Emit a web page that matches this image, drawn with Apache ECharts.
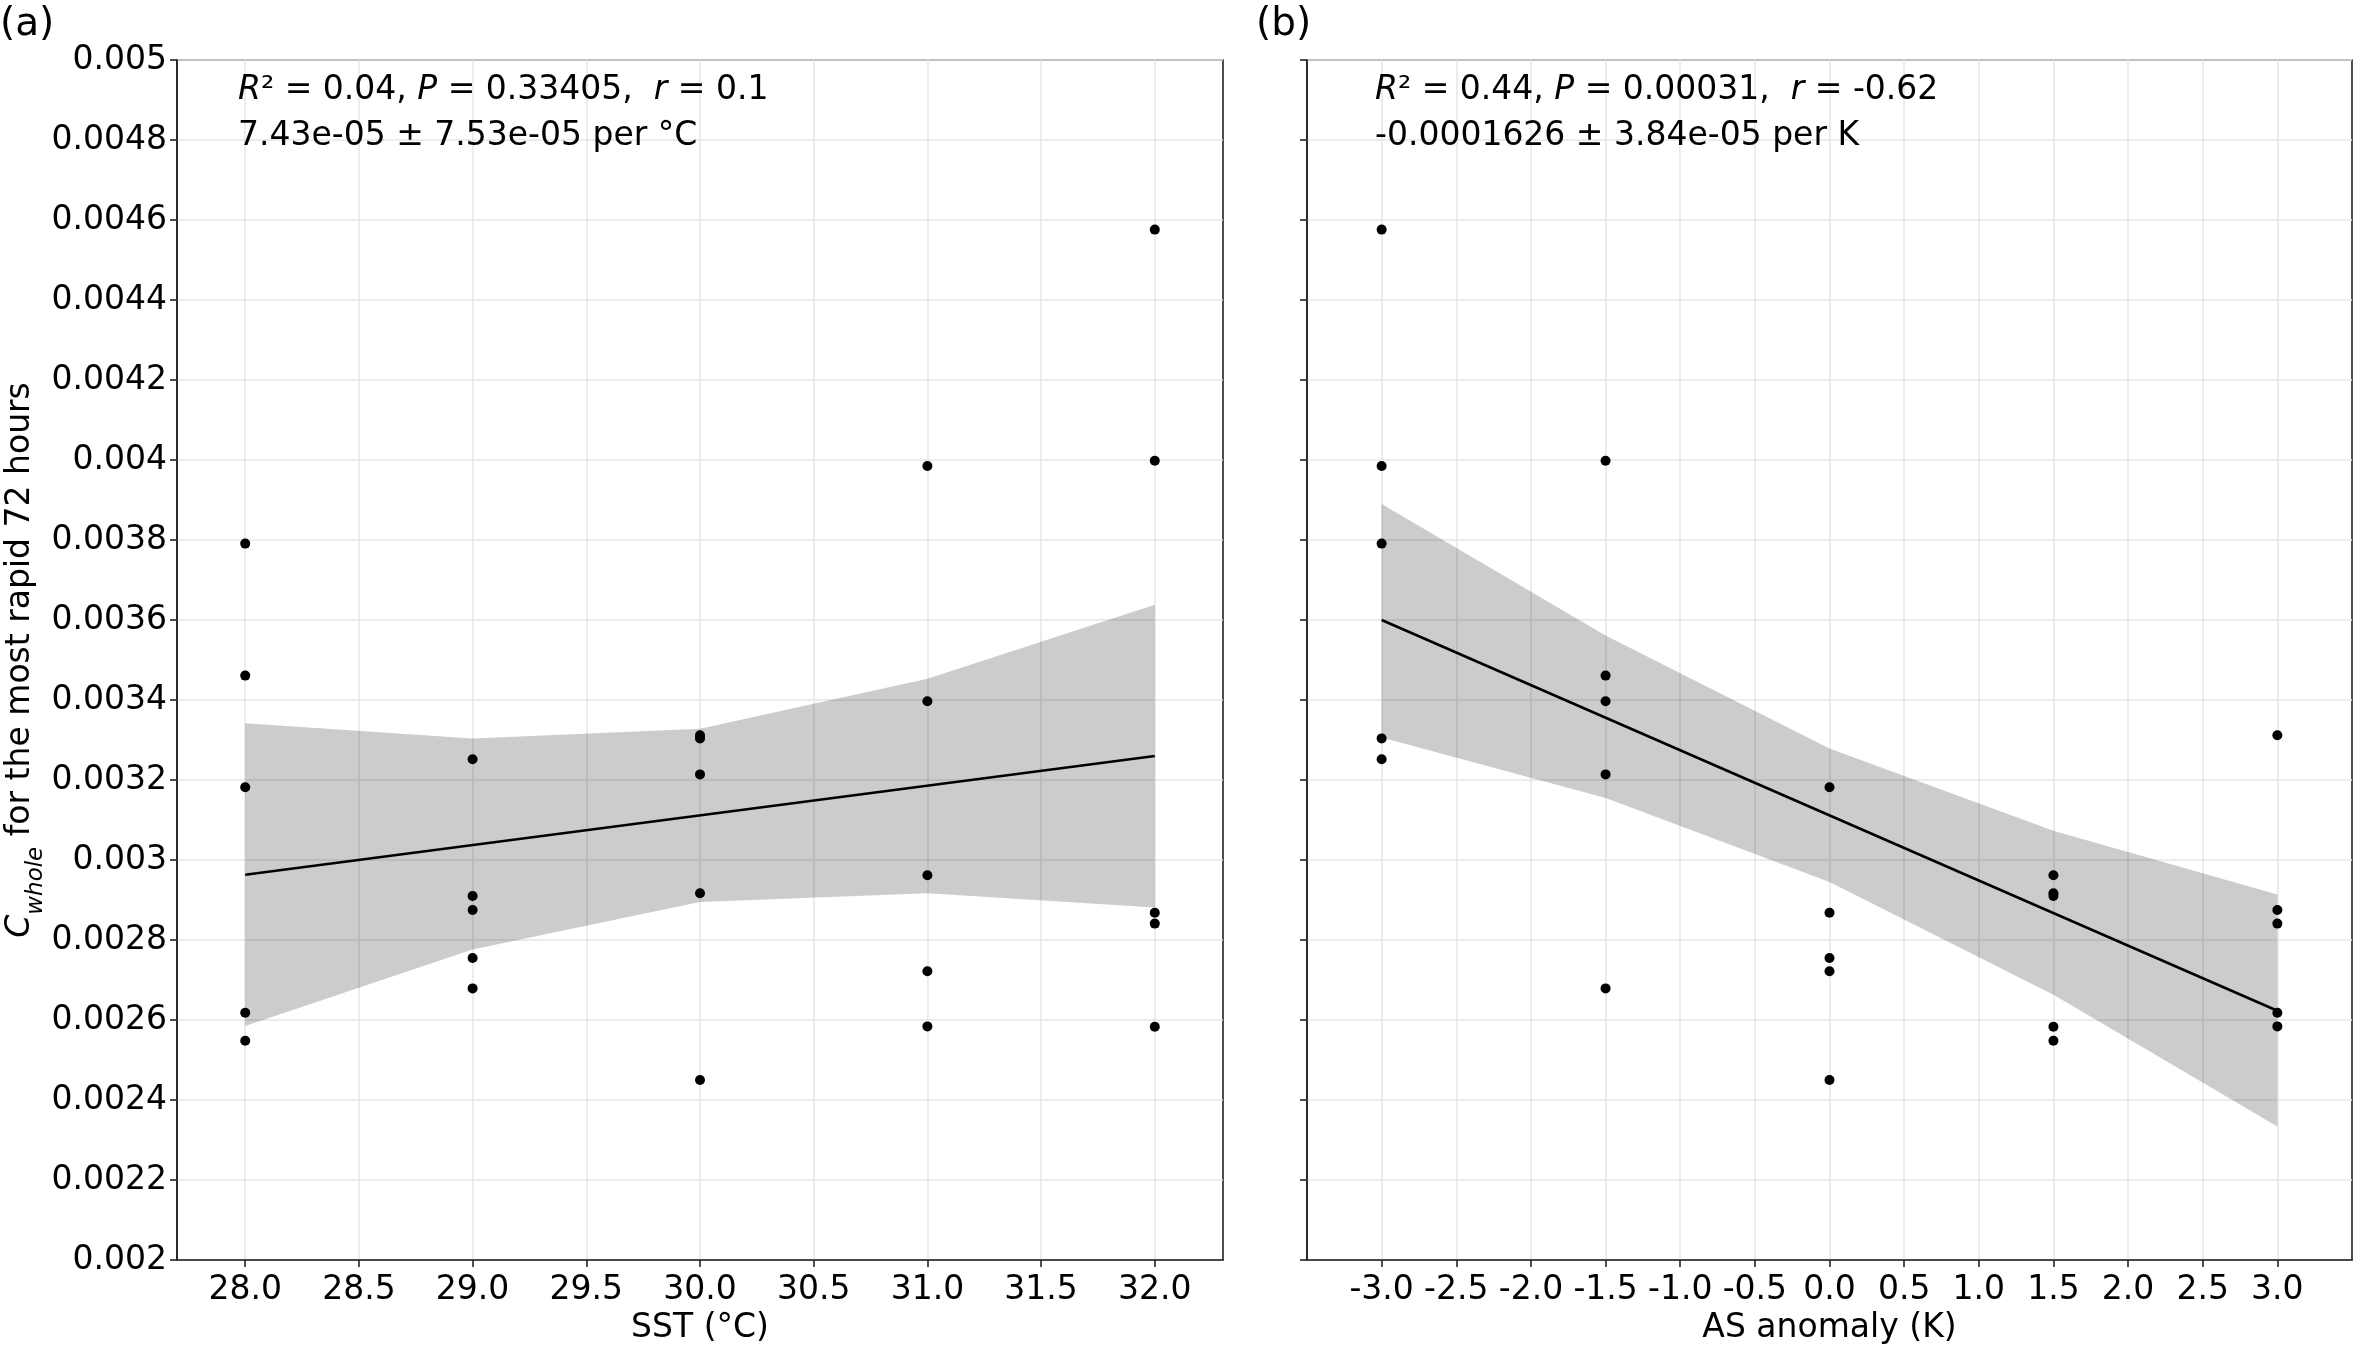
<!DOCTYPE html>
<html>
<head>
<meta charset="utf-8">
<script src="https://cdn.jsdelivr.net/npm/echarts@6/dist/echarts.min.js"></script>
<style>
  html, body { margin: 0; padding: 0; background: #fff; }
  #chart { width: 2358px; height: 1350px; }
</style>
</head>
<body>
<div id="chart"></div>
<script>
// 25 runs: every SST level crossed with every AS anomaly level
var sst = [28, 28, 28, 28, 28, 29, 29, 29, 29, 29, 30, 30, 30, 30, 30,
           31, 31, 31, 31, 31, 32, 32, 32, 32, 32];
var asAnom = [-3, -1.5, 0, 1.5, 3, -3, -1.5, 0, 1.5, 3, -3, -1.5, 0, 1.5, 3,
              -3, -1.5, 0, 1.5, 3, -3, -1.5, 0, 1.5, 3];
var cWhole = [0.003791, 0.003461, 0.003182, 0.002548, 0.002618,
              0.003252, 0.002679, 0.002755, 0.002910, 0.002875,
              0.003304, 0.003214, 0.002450, 0.002917, 0.003312,
              0.003985, 0.003397, 0.002722, 0.002962, 0.002584,
              0.004576, 0.003998, 0.002868, 0.002583, 0.002841];

// fitted lines (end points) and confidence bands
var fitLeft = [[28, 0.002963], [32, 0.003260]];
var fitRight = [[-3, 0.003600], [3, 0.002623]];

var bandLeftX = [28, 29, 30, 31, 32];
var bandLeftUpper = [0.003342, 0.003304, 0.003328, 0.003453, 0.003638];
var bandLeftLower = [0.002585, 0.002776, 0.002895, 0.002917, 0.002881];

var bandRightX = [-3, -1.5, 0, 1.5, 3];
var bandRightUpper = [0.003890, 0.003561, 0.003279, 0.003073, 0.002914];
var bandRightLower = [0.003306, 0.003155, 0.002945, 0.002663, 0.002334];

var sstTicks = [28, 28.5, 29, 29.5, 30, 30.5, 31, 31.5, 32];
var asTicks = [-3, -2.5, -2, -1.5, -1, -0.5, 0, 0.5, 1, 1.5, 2, 2.5, 3];

var FONT = 'DejaVu Sans';
var FS = 33;
var gridColor = '#e6e6e6';
var spineColor = '#222';

function bandRenderer(xs, ups, lows) {
  return function (params, api) {
    var pts = [];
    for (var i = 0; i < xs.length; i++) pts.push(api.coord([xs[i], ups[i]]));
    for (var j = xs.length - 1; j >= 0; j--) pts.push(api.coord([xs[j], lows[j]]));
    return {
      type: 'polygon',
      shape: { points: pts },
      style: { fill: 'rgba(0,0,0,0.2)', stroke: null }
    };
  };
}

function xAxisCfg(idx, min, max, ticks, name) {
  return {
    type: 'value', gridIndex: idx, min: min, max: max,
    name: name, nameLocation: 'middle', nameGap: 52,
    nameTextStyle: { fontFamily: FONT, fontSize: FS, color: '#000' },
    axisLine: { show: true, onZero: false, lineStyle: { color: spineColor, width: 1.6 } },
    axisTick: { show: true, length: 7, customValues: ticks, lineStyle: { color: spineColor, width: 1.6 } },
    axisLabel: {
      customValues: ticks, margin: 14, fontFamily: FONT, fontSize: FS, color: '#000',
      formatter: function (v) { return v.toFixed(1); }
    },
    splitLine: { show: true, lineStyle: { color: gridColor, width: 1.5 } }
  };
}

function yAxisCfg(idx, showLabels) {
  var cfg = {
    type: 'value', gridIndex: idx, min: 0.002, max: 0.005, interval: 0.0002,
    axisLine: { show: true, onZero: false, lineStyle: { color: spineColor, width: 1.6 } },
    axisTick: { show: true, length: 7, lineStyle: { color: spineColor, width: 1.6 } },
    axisLabel: {
      show: showLabels, margin: 10, fontFamily: FONT, fontSize: FS, color: '#000',
      formatter: function (v) { return String(+v.toFixed(4)); }
    },
    splitLine: { show: true, lineStyle: { color: gridColor, width: 1.5 } }
  };
  if (showLabels) {
    cfg.name = '{c|C}{s|whole}{n| for the most rapid 72 hours}';
    cfg.nameLocation = 'middle';
    cfg.nameGap = 128;
    cfg.nameTextStyle = {
      rich: {
        c: { fontFamily: FONT, fontSize: FS, fontStyle: 'italic', color: '#000', lineHeight: 44, verticalAlign: 'top' },
        s: { fontFamily: FONT, fontSize: 23, fontStyle: 'italic', color: '#000', lineHeight: 44, verticalAlign: 'bottom' },
        n: { fontFamily: FONT, fontSize: FS, color: '#000', lineHeight: 44, verticalAlign: 'top' }
      }
    };
  }
  return cfg;
}

function statText(x, line1, line2) {
  var rich = {
    i: { fontFamily: FONT, fontSize: FS, fontStyle: 'italic', fill: '#000' },
    n: { fontFamily: FONT, fontSize: FS, fill: '#000' }
  };
  return [
    { type: 'text', left: x, top: 74, z: 10,
      style: { text: line1, rich: rich, fontFamily: FONT, fontSize: FS, fill: '#000' } },
    { type: 'text', left: x, top: 120, z: 10,
      style: { text: line2, fontFamily: FONT, fontSize: FS, fill: '#000' } }
  ];
}

var chart = echarts.init(document.getElementById('chart'), null, { renderer: 'canvas' });

var option = {
  backgroundColor: '#fff',
  animation: false,
  grid: [
    { left: 177, top: 60, width: 1046, height: 1207, show: true, borderColor: spineColor, borderWidth: 1.6 },
    { left: 1307, top: 60, width: 1045, height: 1207, show: true, borderColor: spineColor, borderWidth: 1.6 }
  ],
  xAxis: [
    xAxisCfg(0, 27.7, 32.3, sstTicks, 'SST (°C)'),
    xAxisCfg(1, -3.5, 3.5, asTicks, 'AS anomaly (K)')
  ],
  yAxis: [yAxisCfg(0, true), yAxisCfg(1, false)],
  graphic: [
    { type: 'text', left: 0, top: 5, style: { text: '(a)', fontFamily: FONT, fontSize: 39, fill: '#000' } },
    { type: 'text', left: 1256, top: 5, style: { text: '(b)', fontFamily: FONT, fontSize: 39, fill: '#000' } }
  ].concat(
    statText(238, '{i|R}{n|² = 0.04, }{i|P}{n| = 0.33405,  }{i|r}{n| = 0.1}', '7.43e-05 ± 7.53e-05 per °C'),
    statText(1375, '{i|R}{n|² = 0.44, }{i|P}{n| = 0.00031,  }{i|r}{n| = -0.62}', '-0.0001626 ± 3.84e-05 per K')
  ),
  series: [
    { type: 'custom', xAxisIndex: 0, yAxisIndex: 0, z: 1, silent: true,
      renderItem: bandRenderer(bandLeftX, bandLeftUpper, bandLeftLower), data: [0] },
    { type: 'line', xAxisIndex: 0, yAxisIndex: 0, z: 3, data: fitLeft, showSymbol: false,
      lineStyle: { color: '#000', width: 2.6 } },
    { type: 'scatter', xAxisIndex: 0, yAxisIndex: 0, z: 4, symbolSize: 10,
      itemStyle: { color: '#000', opacity: 1 },
      data: sst.map(function (x, i) { return [x, cWhole[i]]; }) },

    { type: 'custom', xAxisIndex: 1, yAxisIndex: 1, z: 1, silent: true,
      renderItem: bandRenderer(bandRightX, bandRightUpper, bandRightLower), data: [0] },
    { type: 'line', xAxisIndex: 1, yAxisIndex: 1, z: 3, data: fitRight, showSymbol: false,
      lineStyle: { color: '#000', width: 2.6 } },
    { type: 'scatter', xAxisIndex: 1, yAxisIndex: 1, z: 4, symbolSize: 10,
      itemStyle: { color: '#000', opacity: 1 },
      data: asAnom.map(function (x, i) { return [x, cWhole[i]]; }) }
  ]
};

chart.setOption(option);
</script>
</body>
</html>
